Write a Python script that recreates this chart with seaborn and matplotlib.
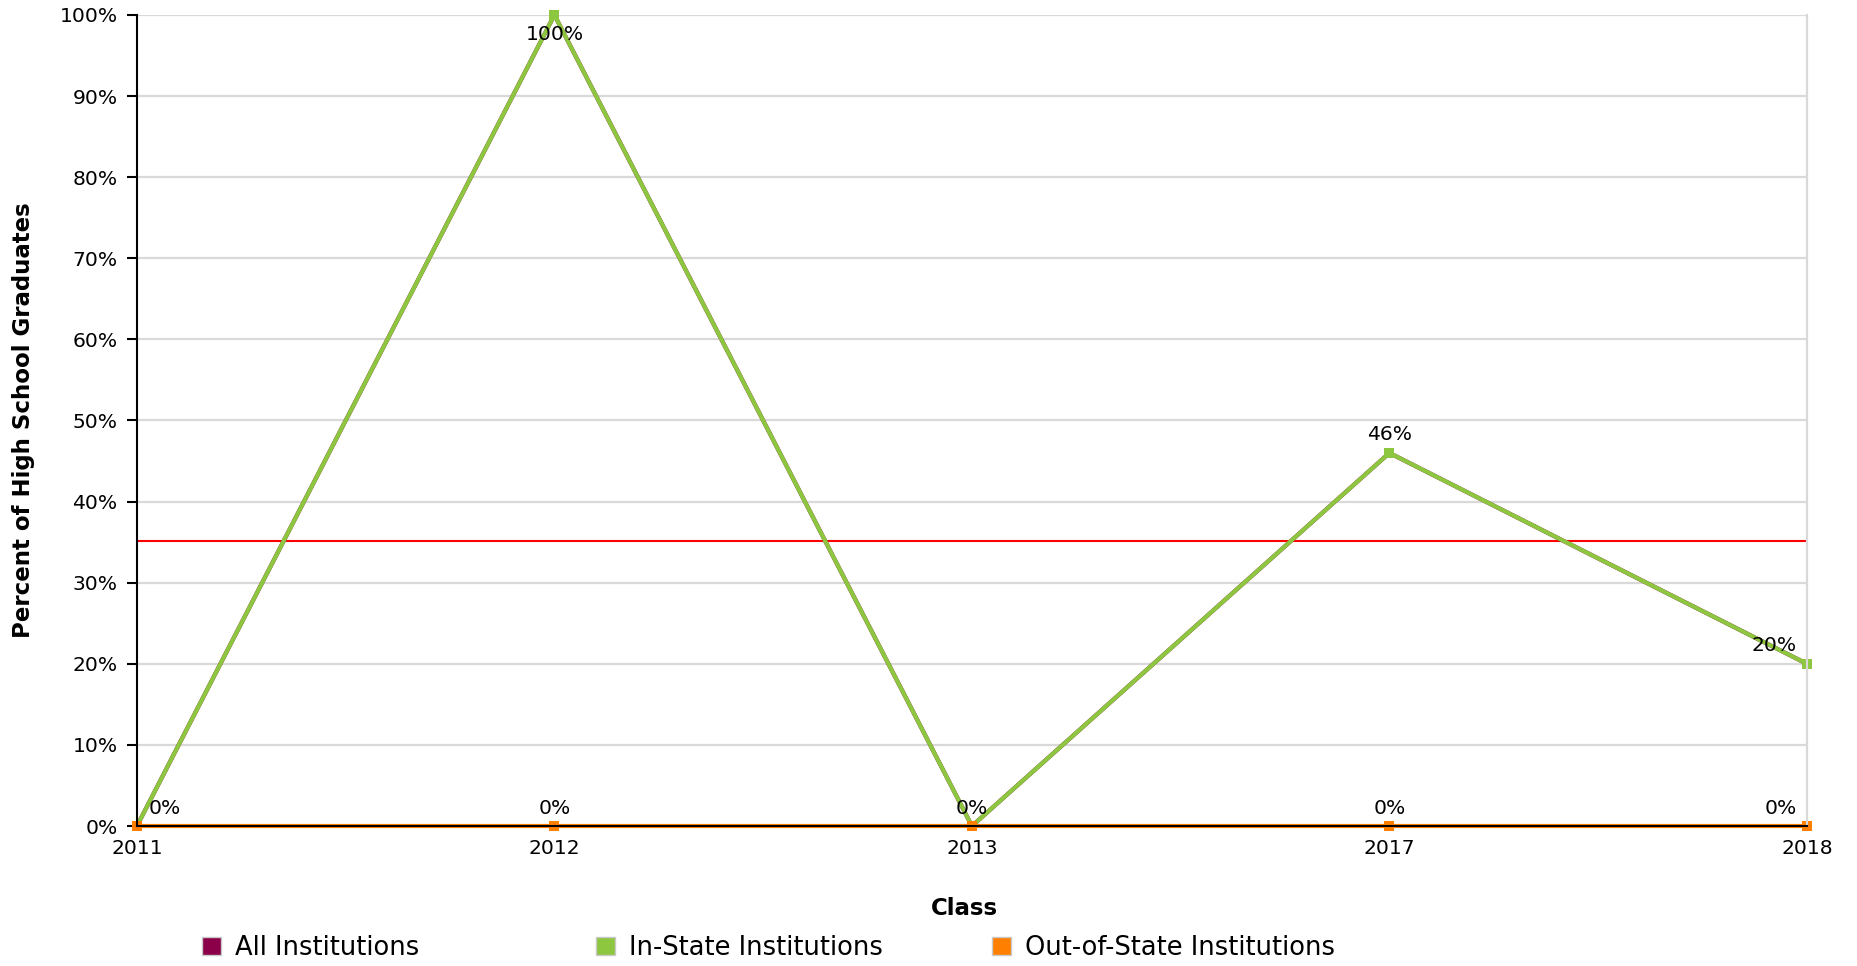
import pandas as pd
import seaborn as sns
import matplotlib.pyplot as plt
from matplotlib.patches import Patch
from matplotlib.ticker import PercentFormatter

# values
classes = ["2011", "2012", "2013", "2017", "2018"]
all_institutions = [0, 100, 0, 46, 20]
in_state = [0, 100, 0, 46, 20]
out_of_state = [0, 0, 0, 0, 0]
benchmark = 35.2

series_names = ["All Institutions", "In-State Institutions", "Out-of-State Institutions"]
series_colors = ["#8b0048", "#8dc63f", "#ff8000"]
y_ticks = list(range(0, 101, 10))

df = pd.DataFrame({
    "Class": classes * 3,
    "Percent": all_institutions + in_state + out_of_state,
    "Series": [s for s in series_names for _ in classes],
})

sns.set_style("white")
plt.rcParams["font.family"] = ["DejaVu Sans"]
plt.rcParams.update({"text.color": "black", "axes.labelcolor": "black",
                     "xtick.color": "black", "ytick.color": "black"})

fig = plt.figure(figsize=(18.58, 9.66), dpi=100)
ax = fig.add_axes([0.0737, 0.1449, 0.8988, 0.8396])

# gridlines
for t in y_ticks:
    ax.axhline(t, color="#d9d9d9", lw=1.6, zorder=0)

ax.axhline(benchmark, color="#ff0000", lw=1.5, zorder=1)

sns.lineplot(data=df, x="Class", y="Percent", hue="Series", hue_order=series_names,
             palette=series_colors, marker="s", markersize=6.5, markeredgewidth=0,
             linewidth=3, sort=False, legend=False, ax=ax, clip_on=False, zorder=2)

# data labels (one per distinct point)
n = len(classes)
drawn = set()
for values in (out_of_state, in_state):
    for i, v in enumerate(values):
        if (i, v) in drawn:
            continue
        drawn.add((i, v))
        dx, ha = 0, "center"
        if i == 0:
            dx, ha = 12, "left"
        elif i == n - 1:
            dx, ha = -10, "right"
        dy = -20 if v >= 95 else 18
        ax.annotate(f"{v:.0f}%", (i, v), xytext=(dx, dy), textcoords="offset pixels",
                    ha=ha, va="center", fontsize=14.6, color="black", zorder=5)

ax.set_xlim(0, n - 1)
ax.set_ylim(0, 100)
ax.set_yticks(y_ticks)
ax.yaxis.set_major_formatter(PercentFormatter(decimals=0))
ax.tick_params(axis="y", length=7, width=1.5, pad=7, labelsize=14.6, color="black", left=True)
ax.tick_params(axis="x", length=0, pad=9, labelsize=14.6)

for side in ["left", "bottom"]:
    ax.spines[side].set_color("black")
    ax.spines[side].set_linewidth(1.5)
ax.spines["right"].set_color("#d9d9d9")
ax.spines["right"].set_linewidth(1.6)
ax.spines["top"].set_visible(False)

ax.set_xlabel("Class", fontsize=16.5, fontweight="bold", va="center")
ax.xaxis.set_label_coords(0.4958, -0.1023)
ax.set_ylabel("Percent of High School Graduates", fontsize=16.5, fontweight="bold", va="center")
ax.yaxis.set_label_coords(-0.068, 0.5)

# legend, one fixed-width slot per series
legend_x = [202, 596, 992]
for name, color, x in zip(series_names, series_colors, legend_x):
    handle = Patch(facecolor=color, edgecolor="#c8c8c8", linewidth=1)
    fig.legend(handles=[handle], labels=[name], loc="center left",
               bbox_to_anchor=(x / 1858, 1 - 948 / 966), frameon=False,
               fontsize=18.5, handlelength=0.74, handleheight=0.74,
               handletextpad=0.55, borderpad=0, borderaxespad=0)

fig.savefig("out.png", dpi=100)
